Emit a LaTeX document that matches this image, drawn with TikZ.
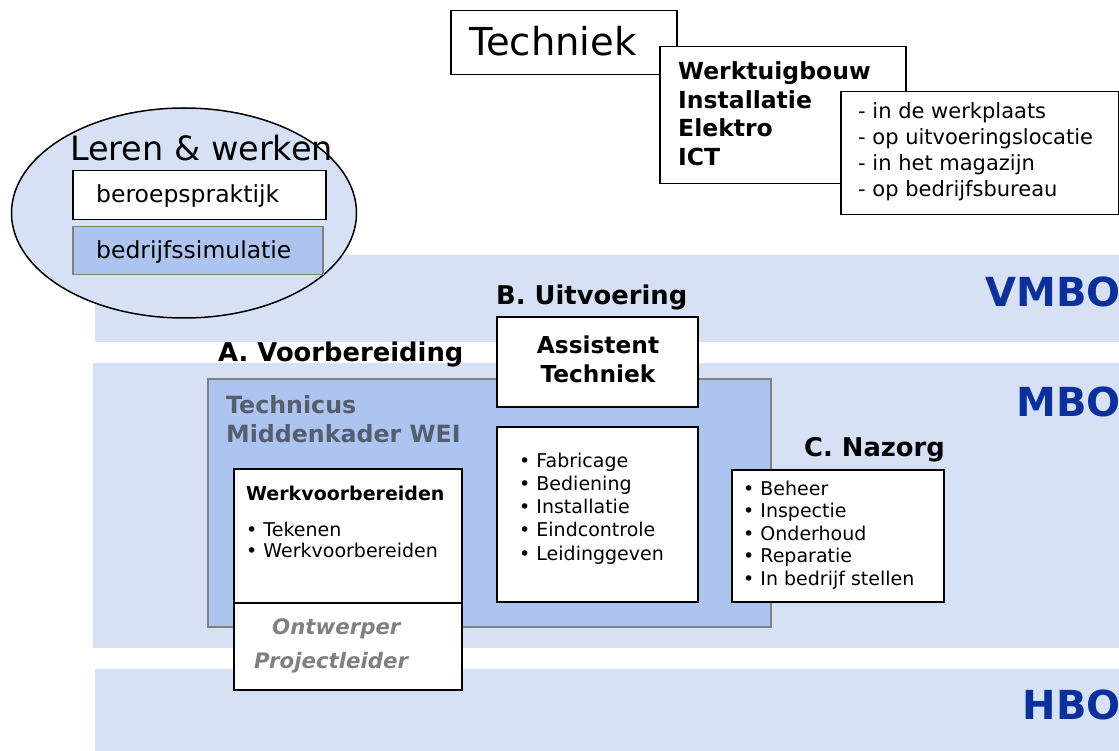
\documentclass[tikz,border=0pt]{standalone}
\usepackage{fontspec}
\setmainfont{DejaVu Sans}
\usetikzlibrary{shapes.geometric}
\definecolor{band}{HTML}{D7E1F6}
\definecolor{midblue}{HTML}{ADC4F0}
\definecolor{lvl}{HTML}{0B309B}
\definecolor{grtxt}{HTML}{555E6E}
\definecolor{ital}{HTML}{808080}
\newcommand\fsz[1]{\fontsize{#1}{#1}\selectfont}
\begin{document}
\begin{tikzpicture}[x=1pt,y=-1pt,
  bandbox/.style={fill=band, draw=none, inner sep=0, anchor=north west},
  box/.style={draw=black, line width=1.7pt, fill=white, inner sep=0, anchor=north west},
  txt/.style={anchor=base west, inner sep=0},
  lvltxt/.style={anchor=base east, inner sep=0, text=lvl, font=\fsz{40}\bfseries},
  head/.style={anchor=base west, inner sep=0, font=\fsz{25.8}\bfseries},
]
\useasboundingbox (0,0) rectangle (1119,751);
% level bands
\node[bandbox, minimum width=1024, minimum height=87] (vmboband) at (95,255) {};
\node[bandbox, minimum width=1026, minimum height=285] (mboband) at (93,363) {};
\node[bandbox, minimum width=1024, minimum height=82] (hboband) at (95,669) {};
\node[lvltxt] (vmbo) at (1121,306) {VMBO};
\node[lvltxt] (mbo) at (1121,416) {MBO};
\node[lvltxt] (hbo) at (1121,719) {HBO};
% Leren & werken
\node[draw=black, line width=1.5pt, fill=band, ellipse, minimum width=345, minimum height=210, inner sep=0] (lw) at (184,213) {};
\node[txt, font=\fsz{33.5}] (lwt) at (70,161) {Leren \& werken};
\node[box, line width=1.5pt, minimum width=253, minimum height=49] (bp) at (72,170) {};
\node[txt, font=\fsz{23.5}] (bpt) at (96,203) {beroepspraktijk};
\node[box, draw=gray, line width=1.5pt, fill=midblue, minimum width=250, minimum height=48] (bs) at (72,226) {};
\node[txt, font=\fsz{23.5}] (bst) at (96,259) {bedrijfssimulatie};
% Techniek stack
\node[box, line width=1.5pt, minimum width=226, minimum height=64] (tech) at (450,10) {};
\node[txt, font=\fsz{38.5}] (techt) at (469,56) {Techniek};
\node[box, line width=1.5pt, minimum width=246, minimum height=137] (wt) at (659,46) {};
\foreach \t [count=\i] in {Werktuigbouw,Installatie,Elektro,ICT}
  \node[txt, font=\fsz{23.5}\bfseries] (wt\i) at (678,{80+28.4*(\i-1)}) {\t};
\node[box, line width=1.5pt, minimum width=278, minimum height=123] (loc) at (840,91) {};
\foreach \t [count=\i] in {in de werkplaats,op uitvoeringslocatie,in het magazijn,op bedrijfsbureau}
  \node[txt, font=\fsz{21}] (loc\i) at (858,{119+25.7*(\i-1)}) {- \t};
% headings
\node[head] (bh) at (496,305) {B. Uitvoering};
\node[head] (ah) at (218,361) {A. Voorbereiding};
% Technicus box
\node[box, draw=gray, line width=1.5pt, fill=midblue, minimum width=563, minimum height=248] (tm) at (207,378) {};
\node[txt, font=\fsz{23.7}\bfseries, text=grtxt] (tm1) at (226,413) {Technicus};
\node[txt, font=\fsz{23.7}\bfseries, text=grtxt] (tm2) at (226,442) {Middenkader WEI};
% Assistent Techniek
\node[box, minimum width=201, minimum height=90] (at) at (496,316) {};
\node[anchor=base, inner sep=0, font=\fsz{23.3}\bfseries] (at1) at (598,353) {Assistent};
\node[anchor=base, inner sep=0, font=\fsz{23.3}\bfseries] (at2) at (598,382) {Techniek};
% Fabricage box
\node[box, minimum width=201, minimum height=175] (fb) at (496,426) {};
\foreach \t [count=\i] in {Fabricage,Bediening,Installatie,Eindcontrole,Leidinggeven}
  \node[txt, font=\fsz{19}] (fb\i) at (519,{467+23.3*(\i-1)}) {\textbullet\ \t};
% Werkvoorbereiden
\node[box, minimum width=228, minimum height=134] (wv) at (233,468) {};
\node[txt, font=\fsz{19}\bfseries] (wvh) at (246,500) {Werkvoorbereiden};
\node[txt, font=\fsz{19}] (wv1) at (246,536) {\textbullet\ Tekenen};
\node[txt, font=\fsz{19}] (wv2) at (246,557) {\textbullet\ Werkvoorbereiden};
\node[box, minimum width=228, minimum height=87] (op) at (233,602) {};
\node[txt, font=\fsz{21.3}\bfseries\itshape, text=ital] (op1) at (272,634) {Ontwerper};
\node[txt, font=\fsz{21.3}\bfseries\itshape, text=ital] (op2) at (254,668) {Projectleider};
% Nazorg
\node[head] (ch) at (804,456) {C. Nazorg};
\node[box, minimum width=212, minimum height=132] (nz) at (731,469) {};
\foreach \t [count=\i] in {Beheer,Inspectie,Onderhoud,Reparatie,In bedrijf stellen}
  \node[txt, font=\fsz{19}] (nz\i) at (743,{495+22.5*(\i-1)}) {\textbullet\ \t};
\end{tikzpicture}
\end{document}
